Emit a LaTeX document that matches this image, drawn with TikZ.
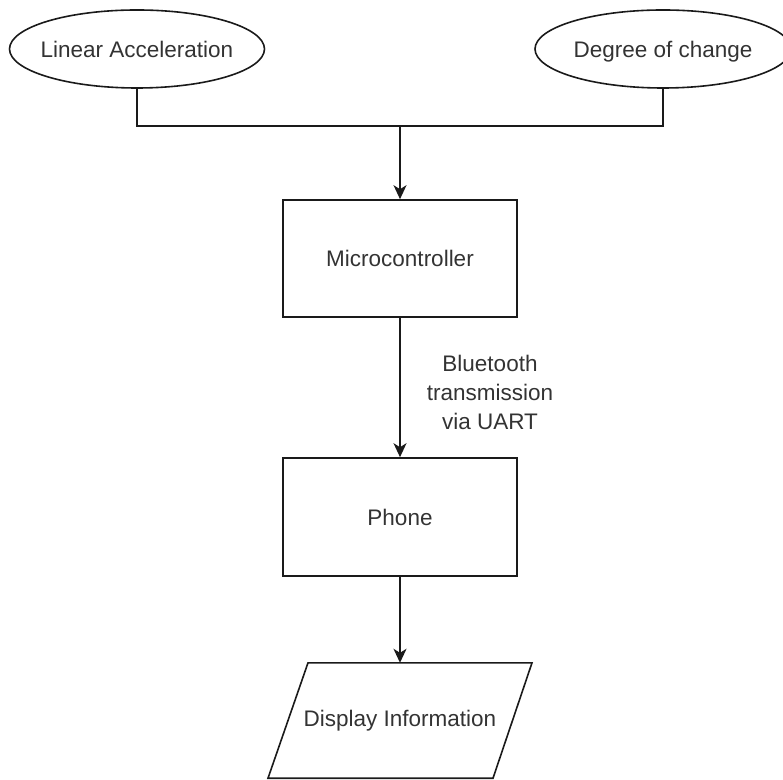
\documentclass[tikz,border=0pt]{standalone}
\usepackage{fontspec}
\setmainfont{Liberation Sans}
\usetikzlibrary{shapes.geometric,arrows.meta}
\definecolor{inkline}{HTML}{1A1A1A}
\definecolor{inktext}{HTML}{333333}
\tikzset{
  every node/.style={font=\fontsize{22.5}{29}\selectfont, text=inktext},
  conn/.style={draw=inkline, line width=1.6pt},
  arr/.style={conn, -{Stealth[length=14pt,width=13pt,inset=4pt]}},
  inputbox/.style={ellipse, draw=inkline, line width=1.6pt,
                   inner xsep=-10pt, inner ysep=0pt, text depth=0pt,
                   minimum width=255pt, minimum height=78pt},
  procbox/.style={rectangle, draw=inkline, line width=1.6pt, inner sep=0pt,
                  minimum width=234pt, minimum height=117pt},
  outbox/.style={rectangle, inner sep=0pt, minimum width=224pt, minimum height=115pt},
}
\begin{document}
\begin{tikzpicture}[x=1pt,y=1pt]
  \useasboundingbox (0,0) rectangle (783,779);
  \begin{scope}
    \clip (0,0) rectangle (783,779);
    % sensor inputs
    \node[inputbox] (lin) at (137,730) {Linear Acceleration};
    \node[inputbox, minimum width=256pt] (deg) at (663,730) {Degree of change};
    % processing chain
    \node[procbox] (mcu) at (400,520.5) {Microcontroller};
    \node[procbox, minimum height=118pt] (phone) at (400,262) {Phone};
    % output (parallelogram drawn around its node)
    \node[outbox] (disp) at (400,58.5) {Display Information};
    \draw[conn, line join=miter]
      ([xshift=-92pt]disp.north) -- ([xshift=132pt]disp.north)
      -- ([xshift=93pt]disp.south) -- ([xshift=-132pt]disp.south) -- cycle;
    % merge of the two inputs
    \coordinate (join) at (400,653);
    \draw[conn] (lin.south) |- (join) -| (deg.south);
    \draw[arr] (join) -- (mcu.north);
    \draw[arr] (mcu.south) -- (phone.north);
    \draw[arr] (phone.south) -- (disp.north);
    % link label
    \node[align=center] (btlabel) at (490,387) {Bluetooth\\transmission\\via UART};
  \end{scope}
\end{tikzpicture}
\end{document}
